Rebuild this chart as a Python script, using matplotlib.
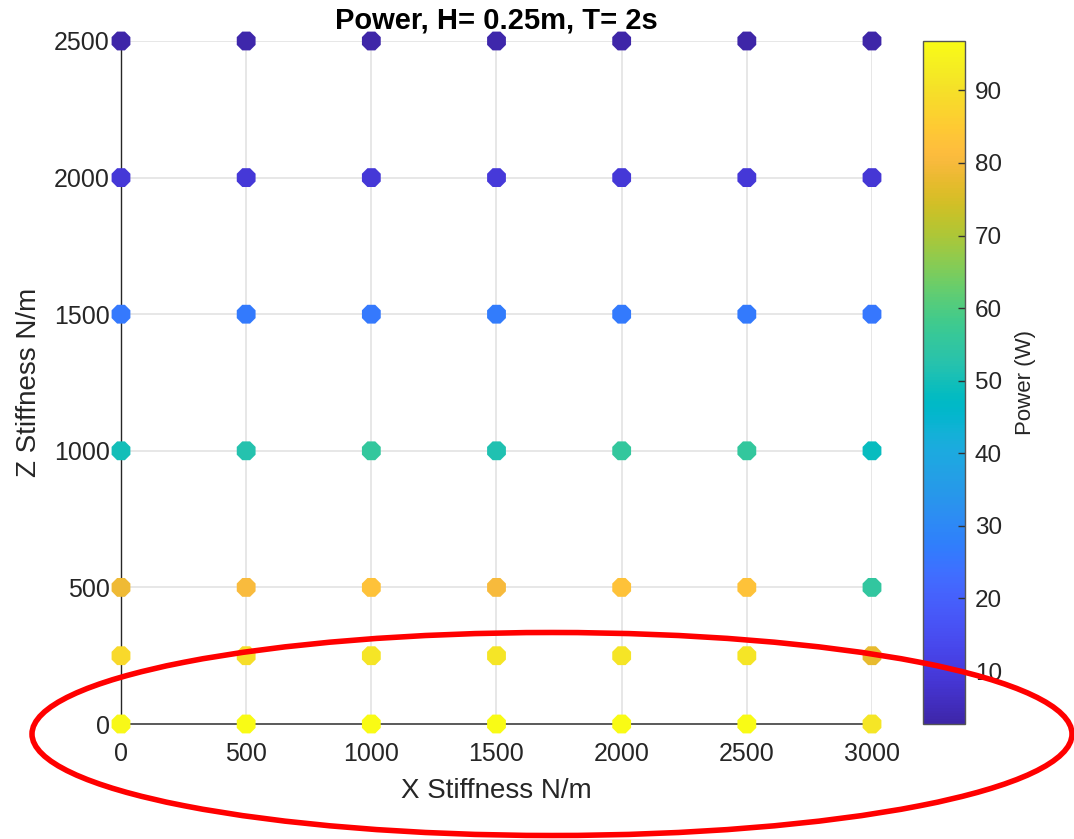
import numpy as np
import matplotlib
matplotlib.use("Agg")
import matplotlib.pyplot as plt
from matplotlib.colors import LinearSegmentedColormap
from matplotlib.patches import Ellipse

plt.rcParams['font.family'] = ['Liberation Sans', 'DejaVu Sans']

# Stiffness grid (N/m)
x_stiffness = [0, 500, 1000, 1500, 2000, 2500, 3000]
z_stiffness = [0, 250, 500, 1000, 1500, 2000, 2500]

# Power (W), one row per Z stiffness value, columns follow x_stiffness
power_z0    = [95.8, 96.8, 96.6, 96.8, 96.8, 96.6, 91.5]
power_z250  = [88.5, 89.5, 91.0, 91.2, 91.0, 91.0, 77.5]
power_z500  = [78.5, 80.5, 83.0, 80.0, 83.0, 83.0, 55.0]
power_z1000 = [50.0, 52.0, 55.5, 51.5, 55.5, 55.5, 48.5]
power_z1500 = [26.0, 26.5, 26.2, 26.6, 26.3, 26.4, 25.8]
power_z2000 = [9.0, 9.3, 9.1, 9.4, 9.2, 9.3, 8.9]
power_z2500 = [3.0, 3.2, 2.9, 3.1, 2.8, 3.0, 2.7]

power_rows = [power_z0, power_z250, power_z500, power_z1000,
              power_z1500, power_z2000, power_z2500]

x_ticks = [0, 500, 1000, 1500, 2000, 2500, 3000]
y_ticks = [0, 500, 1000, 1500, 2000, 2500]
cbar_ticks = [10, 20, 30, 40, 50, 60, 70, 80, 90]

# Parula-style colormap
parula_pts = [
    (0.2422, 0.1504, 0.6603), (0.2504, 0.1650, 0.7076), (0.2578, 0.1818, 0.7511),
    (0.2647, 0.1978, 0.7952), (0.2706, 0.2147, 0.8364), (0.2751, 0.2342, 0.8710),
    (0.2783, 0.2559, 0.8991), (0.2803, 0.2782, 0.9221), (0.2813, 0.3006, 0.9414),
    (0.2810, 0.3228, 0.9579), (0.2795, 0.3447, 0.9717), (0.2760, 0.3667, 0.9829),
    (0.2699, 0.3892, 0.9906), (0.2602, 0.4123, 0.9952), (0.2440, 0.4358, 0.9988),
    (0.2206, 0.4603, 0.9973), (0.1963, 0.4847, 0.9892), (0.1834, 0.5074, 0.9798),
    (0.1786, 0.5289, 0.9682), (0.1764, 0.5499, 0.9520), (0.1687, 0.5703, 0.9359),
    (0.1540, 0.5902, 0.9218), (0.1460, 0.6091, 0.9079), (0.1380, 0.6276, 0.8973),
    (0.1248, 0.6459, 0.8883), (0.1113, 0.6635, 0.8763), (0.0952, 0.6798, 0.8598),
    (0.0689, 0.6948, 0.8394), (0.0297, 0.7082, 0.8163), (0.0036, 0.7203, 0.7917),
    (0.0067, 0.7312, 0.7660), (0.0433, 0.7411, 0.7394), (0.0964, 0.7500, 0.7120),
    (0.1408, 0.7584, 0.6842), (0.1717, 0.7670, 0.6554), (0.1938, 0.7758, 0.6251),
    (0.2161, 0.7843, 0.5923), (0.2470, 0.7918, 0.5567), (0.2906, 0.7973, 0.5188),
    (0.3406, 0.8008, 0.4789), (0.3909, 0.8029, 0.4354), (0.4456, 0.8024, 0.3909),
    (0.5044, 0.7993, 0.3480), (0.5616, 0.7942, 0.3045), (0.6174, 0.7876, 0.2612),
    (0.6720, 0.7793, 0.2227), (0.7242, 0.7698, 0.1910), (0.7738, 0.7598, 0.1646),
    (0.8203, 0.7498, 0.1535), (0.8634, 0.7406, 0.1596), (0.9035, 0.7330, 0.1774),
    (0.9393, 0.7288, 0.2100), (0.9728, 0.7298, 0.2394), (0.9956, 0.7434, 0.2371),
    (0.9970, 0.7659, 0.2199), (0.9952, 0.7893, 0.2028), (0.9892, 0.8136, 0.1885),
    (0.9786, 0.8386, 0.1766), (0.9676, 0.8639, 0.1643), (0.9610, 0.8890, 0.1537),
    (0.9597, 0.9135, 0.1423), (0.9628, 0.9373, 0.1265), (0.9691, 0.9606, 0.1064),
    (0.9769, 0.9839, 0.0805),
]
parula = LinearSegmentedColormap.from_list("parula", parula_pts, N=256)

W, H = 1074, 839
fig = plt.figure(figsize=(W / 100, H / 100), dpi=100)
ax = fig.add_axes([121 / W, 115 / H, 751 / W, 683 / H])
cax = fig.add_axes([923 / W, 115 / H, 42 / W, 683 / H])

xs, zs, ps = [], [], []
for zval, row in zip(z_stiffness, power_rows):
    for xval, pval in zip(x_stiffness, row):
        xs.append(xval)
        zs.append(zval)
        ps.append(pval)

sc = ax.scatter(xs, zs, c=ps, cmap=parula, marker='8', s=215,
                linewidths=0, clip_on=False, zorder=3)

ax.set_xlim(0, 3000)
ax.set_ylim(0, 2500)
ax.set_xticks(x_ticks)
ax.set_yticks(y_ticks)
ax.grid(True, color='#e3e3e3', linewidth=1.2, zorder=0)
ax.set_axisbelow(True)
ax.tick_params(axis='both', length=0, labelsize=18, colors='#262626')
ax.tick_params(axis='x', pad=13)
ax.tick_params(axis='y', pad=8)

for side in ('top', 'right'):
    ax.spines[side].set_visible(False)
ax.spines['left'].set_color('#262626')
ax.spines['left'].set_linewidth(1.0)
ax.spines['bottom'].set_color('#5a5a5a')
ax.spines['bottom'].set_linewidth(1.4)

ax.set_xlabel('X Stiffness N/m', fontsize=20, color='#262626')
ax.xaxis.label.set_va('center')
ax.xaxis.set_label_coords(0.5, (724 - 791) / 683)
ax.set_ylabel('Z Stiffness N/m', fontsize=20, color='#262626')
ax.yaxis.label.set_va('center')
ax.yaxis.set_label_coords((29 - 121) / 751, 0.5)

ax.set_title('Power, H= 0.25m, T= 2s', fontsize=21, fontweight='bold',
             color='black', pad=9)

cb = fig.colorbar(sc, cax=cax)
cb.set_ticks(cbar_ticks)
cb.outline.set_edgecolor('#555555')
cb.outline.set_linewidth(1.0)
cax.tick_params(direction='in', length=5, width=1, color='#333333',
                labelsize=17.5, labelcolor='#262626', pad=7)
cb.set_label('Power (W)', fontsize=16, color='#262626')
cax.yaxis.label.set_va('center')
cax.yaxis.set_label_coords((1026 - 923) / 42, 0.5)

# Red highlight around the low-Z-stiffness rows
ell = Ellipse((552 / W, 1 - 734 / H), 1040 / W, 203 / H,
              transform=fig.transFigure, fill=False, edgecolor='#ff0000',
              linewidth=4.0, zorder=10)
fig.add_artist(ell)

fig.savefig('out.png', dpi=100)
